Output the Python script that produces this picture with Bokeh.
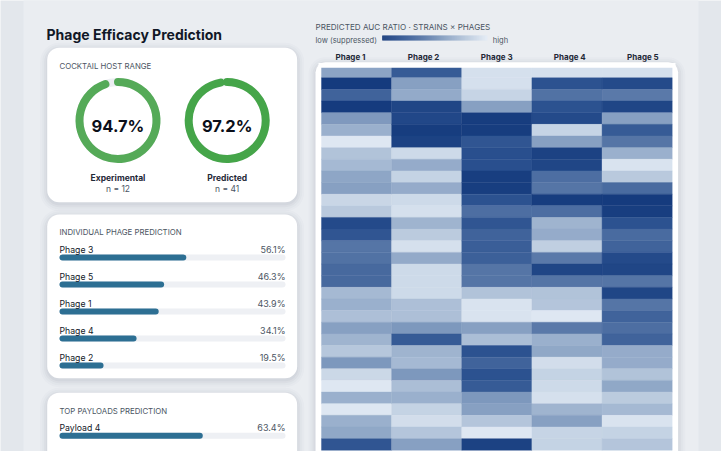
import numpy as np
from bokeh.plotting import figure
from bokeh.models import Range1d, ColumnDataSource, LinearColorMapper
from bokeh.core.properties import value
from bokeh.embed import file_html
from bokeh.resources import INLINE

# ---------------- data ----------------
host_labels = ["Experimental", "Predicted"]
host_pct = [94.7, 97.2]
host_n = ["n = 12", "n = 41"]

phage_names = ["Phage 3", "Phage 5", "Phage 1", "Phage 4", "Phage 2"]
phage_pct = [56.1, 46.3, 43.9, 34.1, 19.5]

payload_names = ["Payload 4", "Payload 2"]
payload_pct = [63.4, 43.0]

heat_phages = ["Phage 1", "Phage 2", "Phage 3", "Phage 4", "Phage 5"]
# predicted AUC ratio per strain (rows top->bottom), 0 = suppressed, 1 = high
phage1_auc = [.62, .05, .30, .05, .57, .68, .97, .78, .73, .63, .60, .88, .81, .15, .22, .40, .38,
              .33, .33, .73, .68, .76, .60, .70, .80, .56, .89, .97, .68, .97, .68, .64, .22]
phage2_auc = [.25, .60, .65, .12, .13, .06, .09, .90, .66, .86, .66, .90, .93, .70, .82, .93, .65,
              .90, .90, .90, .76, .76, .56, .25, .70, .73, .56, .75, .68, .86, .92, .79, .60]
phage3_auc = [.93, .93, .87, .60, .06, .06, .22, .18, .18, .07, .07, .20, .36, .22, .30, .27, .28,
              .40, .40, .78, .95, .95, .60, .75, .20, .30, .20, .25, .56, .60, .79, .97, .09]
phage4_auc = [.93, .20, .38, .20, .15, .87, .60, .09, .12, .36, .40, .06, .36, .70, .66, .84, .42,
              .12, .40, .78, .79, .97, .42, .68, .64, .92, .86, .90, .93, .70, .60, .87, .86]
phage5_auc = [.93, .15, .42, .12, .60, .25, .40, .68, .95, .81, .34, .05, .07, .20, .34, .30, .15,
              .12, .40, .12, .40, .30, .36, .30, .66, .66, .78, .64, .82, .73, .95, .86, .79]

# ---------------- styling ----------------
BG_OUT = "#e3e7ec"
BG_IN = "#eaedf1"
INK = "#111827"
MUTED = "#4b5563"
BAR = "#2d6f93"
TRACK = "#eef0f4"
GREENS = ["#55aa58", "#45a549"]
FONT = value("Inter")

stops = [(0.0, "#0e3478"), (0.2, "#2c5290"), (0.4, "#5575a6"),
         (0.6, "#87a0c2"), (0.8, "#b6c7dc"), (1.0, "#e4ecf5")]


def hex2rgb(h):
    h = h.lstrip("#")
    return np.array([int(h[i:i + 2], 16) for i in (0, 2, 4)], dtype=float)


def build_palette(n=256):
    pos = np.array([s[0] for s in stops])
    cols = np.array([hex2rgb(s[1]) for s in stops])
    t = np.linspace(0, 1, n)
    out = []
    for ti in t:
        rgb = [np.interp(ti, pos, cols[:, k]) for k in range(3)]
        out.append("#%02x%02x%02x" % tuple(int(round(c)) for c in rgb))
    return out


palette = build_palette()

W, H = 721, 451
X0, Y0 = 0, 0
p = figure(width=W, height=H, x_range=Range1d(X0, X0 + W), y_range=Range1d(Y0 + H, Y0),
           output_backend="svg", toolbar_location=None, min_border=0,
           x_axis_location=None, y_axis_location=None)
p.grid.visible = False
p.outline_line_color = None
p.background_fill_color = BG_OUT
p.border_fill_color = BG_OUT


def lin_range(d0, p0, d1, p1, lo, hi):
    k = (d1 - d0) / (p1 - p0)
    return Range1d(start=d0 + (lo - p0) * k, end=d0 + (hi - p0) * k)


# page container
p.quad(left=23, right=698, top=-10, bottom=470, fill_color=BG_IN, line_color=None)


def card(x0, y0, x1, y1, r=12):
    for g, a in [(7, 0.018), (5, 0.025), (3, 0.035), (1, 0.045)]:
        p.quad(left=x0 - g, right=x1 + g, top=y0 - g + 2, bottom=y1 + g + 2,
               fill_color="#334155", fill_alpha=a, line_color=None, border_radius=int(r + g))
    p.quad(left=x0, right=x1, top=y0, bottom=y1, fill_color="white", line_color=None,
           border_radius=int(r))


def txt(x, y, t, size, color=INK, bold=False, align="left"):
    p.text(x=[x], y=[y], text=[t], text_font=FONT, text_font_size=f"{size}px",
           text_font_style="bold" if bold else "normal", text_color=color,
           text_align=align, text_baseline="alphabetic")


# ---------------- title ----------------
txt(46, 34, "Phage Efficacy Prediction", 14, INK, True)

# ---------------- card 1 : cocktail host range ----------------
card(46.7, 47.3, 296.7, 201.7)
txt(59, 65.5, "COCKTAIL HOST RANGE", 7.8, MUTED)
cx = [117.5, 226.7]
for i in range(2):
    p.arc(x=[cx[i]], y=[120], radius=38.5, start_angle=0, end_angle=2 * np.pi,
          line_color="#eceef2", line_width=8)
    end = np.pi / 2 - 2 * np.pi * host_pct[i] / 100
    p.arc(x=[cx[i]], y=[120], radius=38.5, start_angle=np.pi / 2, end_angle=end,
          direction="clock", line_color=GREENS[i], line_width=8, line_cap="round")
    txt(cx[i], 125, f"{host_pct[i]:.1f}%", 16.5, "#0b0f19", True, "center")
    txt(cx[i], 177.3, host_labels[i], 8.5, "#1f2937", True, "center")
    txt(cx[i], 188.5, host_n[i], 8.5, MUTED, False, "center")

# ---------------- bar cards ----------------
p.extra_x_ranges["pct"] = lin_range(0, 59, 100, 285, X0, X0 + W)


def bar_card(y0, y1, title, names, vals):
    card(46.7, y0, 296.7, y1)
    txt(59, y0 + 17.7, title, 7.8, MUTED)
    n = len(names)
    ys = [y0 + 43 + 27 * i for i in range(n)]
    src = ColumnDataSource(dict(y=ys, v=vals))
    p.hbar(y="y", left=0, right=100, height=6, source=src, x_range_name="pct",
           fill_color=TRACK, line_color=None, border_radius=3)
    p.hbar(y="y", left=0, right="v", height=6, source=src, x_range_name="pct",
           fill_color=BAR, line_color=None, border_radius=3)
    for i in range(n):
        txt(59, ys[i] - 8, names[i], 8.7, INK)
        txt(285, ys[i] - 8, f"{vals[i]:.1f}%", 9, MUTED, False, "right")


bar_card(214, 377.7, "INDIVIDUAL PHAGE PREDICTION", phage_names, phage_pct)
bar_card(392.3, 560, "TOP PAYLOADS PREDICTION", payload_names, payload_pct)

# ---------------- heatmap panel ----------------
txt(315, 26.7, "PREDICTED AUC RATIO · STRAINS × PHAGES", 8.1, MUTED)
txt(315, 40, "low (suppressed)", 7.5, MUTED)
txt(492.3, 40, "high", 7.5, MUTED)
# gradient legend
gx = np.linspace(381.7, 486.7, 106)
gcols = [palette[int(round(k))] for k in np.linspace(0, 255, len(gx) - 1)]
p.quad(left=gx[:-1], right=gx[1:] + 0.3, top=35, bottom=40, fill_color=gcols, line_color=None)
for i, name in enumerate(heat_phages):
    txt(350 + 73.1 * i, 56, name, 8, "#1f2937", True, "center")

card(315, 61.7, 677.7, 560, r=10)

n_rows = len(phage1_auc)
row_h = 11.64
p.extra_x_ranges["hx"] = lin_range(0, 321, 5, 671.7, X0, X0 + W)
p.extra_y_ranges["hy"] = lin_range(0, 65.66, 1, 65.66 + row_h, Y0 + H, Y0)

cols_all = [phage1_auc, phage2_auc, phage3_auc, phage4_auc, phage5_auc]
L, R, T, B, V = [], [], [], [], []
for c, vals in enumerate(cols_all):
    for r, v in enumerate(vals):
        L.append(c); R.append(c + 1); T.append(r); B.append(r + 1); V.append(v)
hsrc = ColumnDataSource(dict(left=L, right=R, top=T, bottom=B, v=V))
mapper = LinearColorMapper(palette=palette, low=0, high=1)
p.quad(left="left", right="right", top="top", bottom="bottom", source=hsrc,
       x_range_name="hx", y_range_name="hy",
       fill_color={"field": "v", "transform": mapper},
       line_color={"field": "v", "transform": mapper}, line_width=0.4)
# card padding above heatmap
p.quad(left=318, right=675, top=62.5, bottom=67.3, fill_color="white", line_color=None)

open("out.html", "w").write(file_html(p, INLINE))
